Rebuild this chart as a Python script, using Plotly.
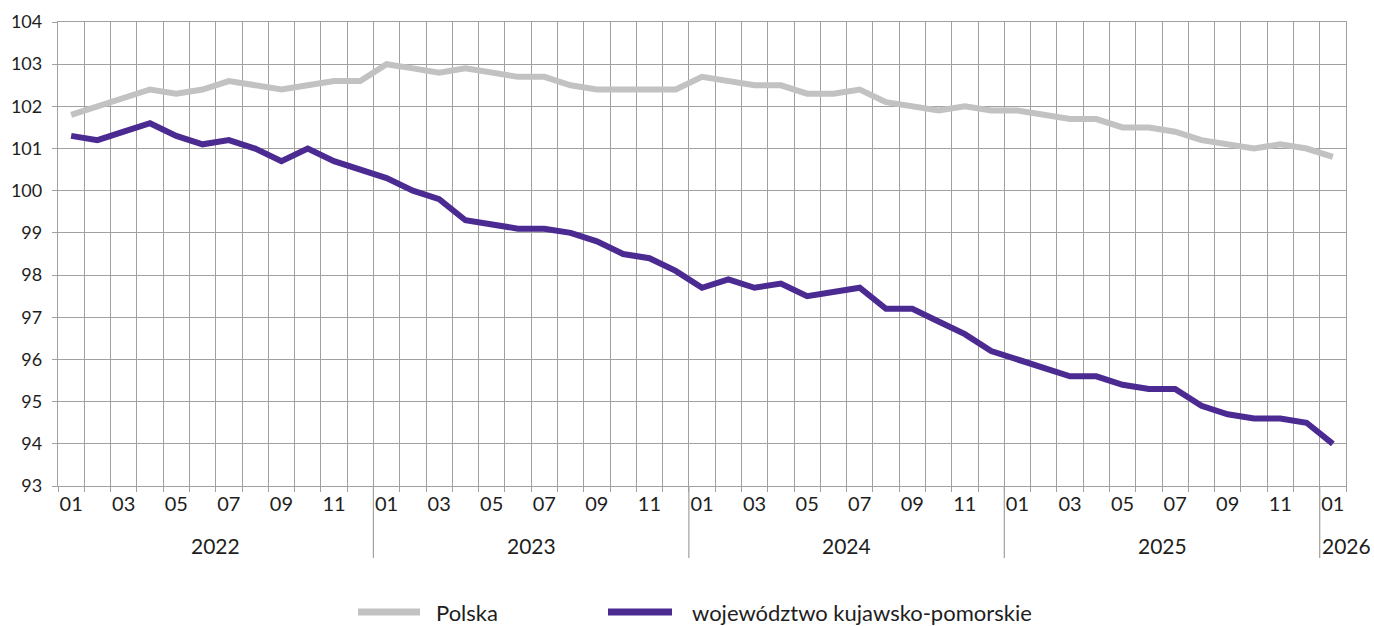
import plotly.graph_objects as go

months = [f"{y}-{m:02d}" for y in range(2022, 2026) for m in range(1, 13)] + ["2026-01"]
years = ["2022", "2023", "2024", "2025", "2026"]
series_names = ["Polska", "województwo kujawsko-pomorskie"]

polska = [101.8, 102.0, 102.2, 102.4, 102.3, 102.4, 102.6, 102.5, 102.4, 102.5, 102.6, 102.6,
          103.0, 102.9, 102.8, 102.9, 102.8, 102.7, 102.7, 102.5, 102.4, 102.4, 102.4, 102.4,
          102.7, 102.6, 102.5, 102.5, 102.3, 102.3, 102.4, 102.1, 102.0, 101.9, 102.0, 101.9,
          101.9, 101.8, 101.7, 101.7, 101.5, 101.5, 101.4, 101.2, 101.1, 101.0, 101.1, 101.0,
          100.8]
kujawsko = [101.3, 101.2, 101.4, 101.6, 101.3, 101.1, 101.2, 101.0, 100.7, 101.0, 100.7, 100.5,
            100.3, 100.0, 99.8, 99.3, 99.2, 99.1, 99.1, 99.0, 98.8, 98.5, 98.4, 98.1,
            97.7, 97.9, 97.7, 97.8, 97.5, 97.6, 97.7, 97.2, 97.2, 96.9, 96.6, 96.2,
            96.0, 95.8, 95.6, 95.6, 95.4, 95.3, 95.3, 94.9, 94.7, 94.6, 94.6, 94.5,
            94.0]

FONT = "Lato, 'Open Sans', sans-serif"
GRID = "#a0a0a0"
TXT = "#1e1e1e"
COLORS = ["#c2c2c2", "#4b2a92"]

n = len(months)
idx = list(range(n))

fig = go.Figure()
fig.add_trace(go.Scatter(x=idx, y=polska, mode="lines", name=series_names[0],
                         line=dict(color=COLORS[0], width=6), showlegend=False))
fig.add_trace(go.Scatter(x=idx, y=kujawsko, mode="lines", name=series_names[1],
                         line=dict(color=COLORS[1], width=6), showlegend=False))

# month tick labels (every other month) on overlay axis
lab_pos = [i for i in idx if int(months[i][5:]) % 2 == 1]
lab_txt = [months[i][5:] for i in lab_pos]
fig.add_trace(go.Scatter(x=[0], y=[None], xaxis="x2", showlegend=False, hoverinfo="skip"))

boundaries = [i - 0.5 for i in range(n + 1)]

L, R, T, B = 58, 28, 22, 140
W, H = 1374, 626
pw, ph = W - L - R, H - T - B

fig.update_layout(
    width=W, height=H,
    margin=dict(l=L, r=R, t=T, b=B, autoexpand=False),
    paper_bgcolor="white", plot_bgcolor="white",
    font=dict(family=FONT, color=TXT, size=17),
    xaxis=dict(range=[-0.5, n - 0.5], tickmode="array", tickvals=boundaries,
               ticktext=[""] * len(boundaries), showgrid=True, gridcolor=GRID, gridwidth=1.3,
               ticks="outside", ticklen=5, tickcolor=GRID, tickwidth=1.3, automargin=False,
               showline=True, linecolor=GRID, linewidth=1.3, mirror=True, zeroline=False),
    xaxis2=dict(range=[-0.5, n - 0.5], overlaying="x", anchor="y", side="bottom",
                tickmode="array", tickvals=lab_pos, ticktext=lab_txt, showgrid=False,
                ticks="", showline=False, zeroline=False, automargin=False,
                tickfont=dict(size=20, color=TXT), ticklabelstandoff=4),
    yaxis=dict(range=[93, 104], dtick=1, showgrid=True, gridcolor=GRID, gridwidth=1.3,
               ticks="outside", ticklen=5, tickcolor=GRID, tickwidth=1.3, automargin=False,
               showline=True, linecolor=GRID, linewidth=1.3, mirror=True, zeroline=False,
               tickfont=dict(size=18, color=TXT), ticklabelstandoff=6),
    showlegend=False,
)

# year separators and labels
sep_bottom = -(558 - (T + ph)) / ph
year_y = -(545 - (T + ph)) / ph
for k, yr in enumerate(years):
    start = k * 12 - 0.5
    if k > 0:
        fig.add_shape(type="line", xref="x", yref="paper", x0=start, x1=start, y0=0, y1=sep_bottom,
                      line=dict(color=GRID, width=1.2))
    if yr == "2026":
        fig.add_annotation(x=start, y=year_y, xref="x", yref="paper", text=yr, showarrow=False,
                           xanchor="left", yanchor="middle", xshift=0, font=dict(size=21, color=TXT))
    else:
        fig.add_annotation(x=start + 6, y=year_y, xref="x", yref="paper", text=yr, showarrow=False,
                           xanchor="center", yanchor="middle", font=dict(size=21, color=TXT))

# legend (drawn manually to match sample length and spacing)
leg_y = -(612 - (T + ph)) / ph
def px(xp):
    return (xp - L) / pw
leg_items = [(358, 420, 434), (608, 672, 690)]
for (x0, x1, xt), name, col in zip(leg_items, series_names, COLORS):
    fig.add_shape(type="line", xref="paper", yref="paper", x0=px(x0), x1=px(x1), y0=leg_y, y1=leg_y,
                  line=dict(color=col, width=7))
    fig.add_annotation(x=px(xt), y=leg_y, xref="paper", yref="paper", text=name, showarrow=False,
                       xanchor="left", yanchor="middle", font=dict(size=22, color=TXT))

fig.write_html("out.html", config={"displayModeBar": False},
               post_script="document.body.style.margin='0';document.body.style.padding='0';"
                           "document.body.style.overflow='hidden';")
